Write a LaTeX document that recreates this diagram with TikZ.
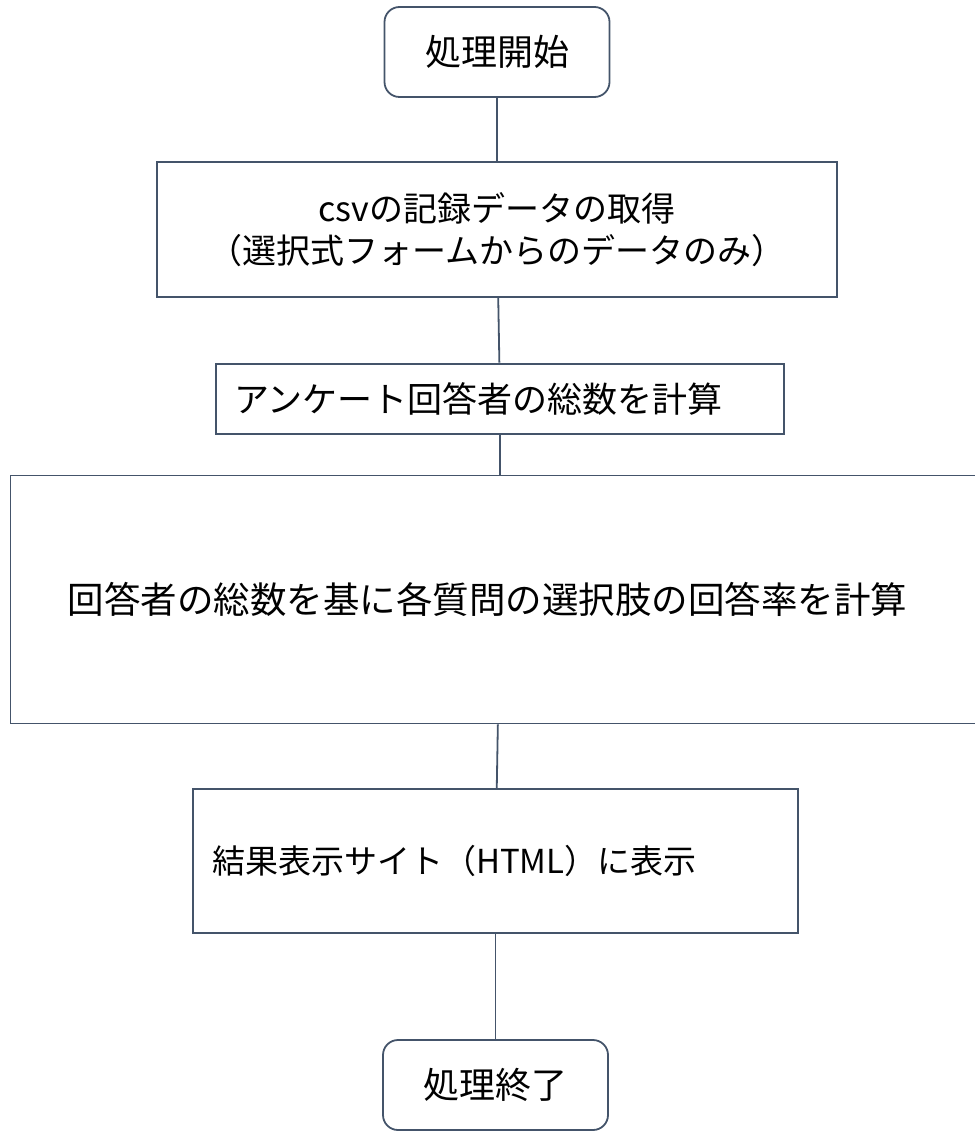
\documentclass[tikz,border=0pt]{standalone}
\usepackage{fontspec}
\setmainfont{Noto Sans CJK JP}
\usetikzlibrary{positioning}
\definecolor{linecol}{HTML}{44546A}
\tikzset{
    terminal/.style={draw=linecol, line width=1.8pt, rounded corners=15pt,
        minimum width=225pt, minimum height=90pt, inner sep=0pt,
        font=\fontsize{36pt}{40pt}\selectfont},
    process/.style={draw=linecol, line width=1.8pt, inner sep=0pt},
    link/.style={draw=linecol, line width=1.8pt},
}

\begin{document}
\begin{tikzpicture}
    \useasboundingbox (0,0) rectangle (974pt,-1131pt);

    \node[terminal] (start) at (497pt,-52pt) {処理開始};

    \node[process, minimum width=680pt, minimum height=135pt, align=center,
        font=\fontsize{34pt}{42pt}\selectfont, below=63pt of start] (load)
        {csvの記録データの取得\\（選択式フォームからのデータのみ）};

    \node[process, text width=532pt, inner xsep=18pt, align=left, minimum height=70pt,
        font=\fontsize{35pt}{40pt}\selectfont, below=65pt of load, xshift=3pt] (total)
        {アンケート回答者の総数を計算};

    \node[process, text width=865pt, inner xsep=57pt, align=left, minimum height=248pt,
        font=\fontsize{36.5pt}{40pt}\selectfont, below=40pt of total] (rate)
        {回答者の総数を基に各質問の選択肢の回答率を計算};

    \node[process, text width=567pt, inner xsep=19pt, align=left, minimum height=144pt,
        font=\fontsize{33pt}{40pt}\selectfont, below=64pt of rate, xshift=-4.5pt] (show)
        {結果表示サイト（HTML）に表示};

    \node[terminal, below=105pt of show] (stop) {処理終了};

    \draw[link] (start) -- (load);
    \draw[link] (load) -- (total);
    \draw[link] (total) -- (rate);
    \draw[link] (rate) -- (show);
    \draw[link] (show) -- (stop);
\end{tikzpicture}
\end{document}
